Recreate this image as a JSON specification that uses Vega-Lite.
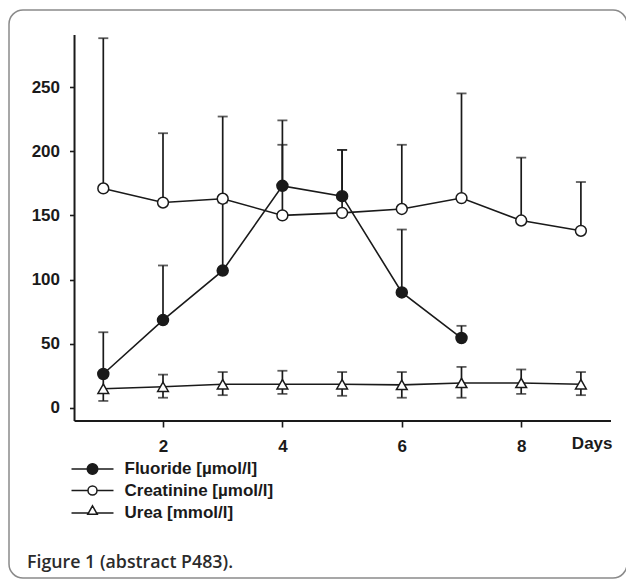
{
  "$schema": "https://vega.github.io/schema/vega-lite/v6.json",
  "width": 618,
  "height": 568,
  "autosize": {"type": "none"},
  "padding": {"left": 9, "top": 10, "right": 0, "bottom": 1},
  "background": "white",
  "config": {
    "view": {"stroke": "#8a8a8a", "strokeWidth": 1.5, "cornerRadius": 14},
    "font": "Liberation Sans",
    "axis": {
      "grid": false,
      "domain": false,
      "labelFont": "Liberation Sans",
      "labelFontSize": 17,
      "labelFontWeight": "bold",
      "labelColor": "#1a1a1a",
      "tickColor": "#1a1a1a",
      "tickWidth": 1.6,
      "titleFont": "Liberation Sans",
      "titleFontSize": 17,
      "titleFontWeight": "bold",
      "titleColor": "#1a1a1a"
    },
    "legend": {
      "labelFont": "Liberation Sans",
      "labelFontSize": 17,
      "labelFontWeight": "bold",
      "labelColor": "#1a1a1a",
      "symbolStrokeWidth": 1.5,
      "symbolStrokeColor": "#1a1a1a",
      "rowPadding": 3.5
    }
  },
  "title": {
    "text": "Figure 1 (abstract P483).",
    "orient": "bottom",
    "anchor": "start",
    "frame": "group",
    "offset": -10,
    "baseline": "alphabetic",
    "dx": 18,
    "font": "Open Sans",
    "fontWeight": 600,
    "fontSize": 17.8,
    "color": "#2b2b2b"
  },
  "data": {
    "values": [
      {"series": "Fluoride [µmol/l]", "day": 1, "value": 26.5, "lower": 26.5, "upper": 59},
      {"series": "Fluoride [µmol/l]", "day": 2, "value": 68.5, "lower": 68.5, "upper": 111},
      {"series": "Fluoride [µmol/l]", "day": 3, "value": 107, "lower": 107, "upper": 160},
      {"series": "Fluoride [µmol/l]", "day": 4, "value": 173, "lower": 173, "upper": 205},
      {"series": "Fluoride [µmol/l]", "day": 5, "value": 165, "lower": 165, "upper": 201},
      {"series": "Fluoride [µmol/l]", "day": 6, "value": 90, "lower": 90, "upper": 139},
      {"series": "Fluoride [µmol/l]", "day": 7, "value": 54.5, "lower": 54.5, "upper": 64},
      {"series": "Creatinine [µmol/l]", "day": 1, "value": 171, "lower": 171, "upper": 288},
      {"series": "Creatinine [µmol/l]", "day": 2, "value": 160, "lower": 160, "upper": 214},
      {"series": "Creatinine [µmol/l]", "day": 3, "value": 163, "lower": 163, "upper": 227},
      {"series": "Creatinine [µmol/l]", "day": 4, "value": 150, "lower": 150, "upper": 224},
      {"series": "Creatinine [µmol/l]", "day": 5, "value": 152, "lower": 152, "upper": 201},
      {"series": "Creatinine [µmol/l]", "day": 6, "value": 155, "lower": 155, "upper": 205},
      {"series": "Creatinine [µmol/l]", "day": 7, "value": 163.5, "lower": 163.5, "upper": 245},
      {"series": "Creatinine [µmol/l]", "day": 8, "value": 146, "lower": 146, "upper": 195},
      {"series": "Creatinine [µmol/l]", "day": 9, "value": 138, "lower": 138, "upper": 176},
      {"series": "Urea [mmol/l]", "day": 1, "value": 15, "lower": 5.5, "upper": 25},
      {"series": "Urea [mmol/l]", "day": 2, "value": 16.5, "lower": 8, "upper": 26},
      {"series": "Urea [mmol/l]", "day": 3, "value": 18.5, "lower": 10, "upper": 28},
      {"series": "Urea [mmol/l]", "day": 4, "value": 18.5, "lower": 11, "upper": 29},
      {"series": "Urea [mmol/l]", "day": 5, "value": 18.5, "lower": 9.5, "upper": 28},
      {"series": "Urea [mmol/l]", "day": 6, "value": 18, "lower": 8, "upper": 28},
      {"series": "Urea [mmol/l]", "day": 7, "value": 19.5, "lower": 8, "upper": 32},
      {"series": "Urea [mmol/l]", "day": 8, "value": 19.5, "lower": 11, "upper": 30},
      {"series": "Urea [mmol/l]", "day": 9, "value": 18.5, "lower": 10, "upper": 28}
    ]
  },
  "resolve": {"scale": {"shape": "independent", "fill": "independent"}, "legend": {"shape": "independent", "fill": "independent"}},
  "layer": [
    {
      "mark": {"type": "line", "color": "#1a1a1a", "strokeWidth": 1.6},
      "encoding": {
        "x": {
          "field": "day", "type": "quantitative",
          "scale": {"domain": [-0.5796, 9.7722], "nice": false, "zero": false},
          "axis": {
            "values": [2, 4, 6, 8], "format": "d", "offset": -157, "tickSize": 6, "labelPadding": 11,
            "title": "Days", "titleX": 603, "titleY": 27, "titleAlign": "right", "titleBaseline": "alphabetic"
          }
        },
        "y": {
          "field": "value", "type": "quantitative",
          "scale": {"domain": [-132.4, 309.97], "nice": false, "zero": false},
          "axis": {"values": [0, 50, 100, 150, 200, 250], "format": "d", "offset": -65.5, "tickSize": 5, "labelPadding": 10, "title": ""}
        },
        "detail": {"field": "series"},
        "order": {"field": "day"}
      }
    },
    {
      "data": {"values": [{}]},
      "mark": {"type": "rule", "color": "#1a1a1a", "strokeWidth": 2},
      "encoding": {
        "x": {"datum": 0.518, "type": "quantitative"},
        "y": {"datum": -10.1, "type": "quantitative"},
        "y2": {"datum": 290.5}
      }
    },
    {
      "data": {"values": [{}]},
      "mark": {"type": "rule", "color": "#1a1a1a", "strokeWidth": 2},
      "encoding": {
        "x": {"datum": 0.518, "type": "quantitative"},
        "x2": {"datum": 9.504},
        "y": {"datum": -10.1, "type": "quantitative"}
      }
    },
    {
      "mark": {"type": "rule", "color": "#1a1a1a", "strokeWidth": 1.7},
      "encoding": {
        "x": {"field": "day", "type": "quantitative"},
        "y": {"field": "lower", "type": "quantitative"},
        "y2": {"field": "upper"}
      }
    },
    {
      "mark": {"type": "tick", "orient": "horizontal", "size": 10, "thickness": 1.8, "color": "#1a1a1a"},
      "encoding": {
        "x": {"field": "day", "type": "quantitative"},
        "y": {"field": "upper", "type": "quantitative"}
      }
    },
    {
      "transform": [{"filter": "datum.series === 'Urea [mmol/l]'"}],
      "mark": {"type": "tick", "orient": "horizontal", "size": 10, "thickness": 1.8, "color": "#1a1a1a"},
      "encoding": {
        "x": {"field": "day", "type": "quantitative"},
        "y": {"field": "lower", "type": "quantitative"}
      }
    },
    {
      "transform": [{"filter": "false"}],
      "mark": {"type": "point", "filled": true, "stroke": "#1a1a1a", "strokeWidth": 1.5},
      "encoding": {
        "x": {"field": "day", "type": "quantitative"},
        "y": {"field": "value", "type": "quantitative"},
        "shape": {
          "field": "series", "type": "nominal",
          "scale": {
            "domain": ["Fluoride [µmol/l]", "Creatinine [µmol/l]", "Urea [mmol/l]"],
            "range": [
              "M-2.47,0H-0.62M0.62,0H2.47M-0.62,0A0.62,0.62,0,1,1,0.62,0A0.62,0.62,0,1,1,-0.62,0Z",
              "M-2.47,0H-0.53M0.53,0H2.47M-0.53,0A0.53,0.53,0,1,1,0.53,0A0.53,0.53,0,1,1,-0.53,0Z",
              "M-2.47,0H-0.47M0.47,0H2.47M0,-0.85L0.56,0.15L-0.56,0.15Z"
            ]
          },
          "legend": {
            "title": null, "orient": "none", "legendX": 74, "legendY": 449.5, "symbolSize": 289, "labelOffset": 22.5,
            "symbolOpacity": 1, "symbolStrokeColor": "#1a1a1a", "symbolStrokeWidth": 1.5,
            "encode": {"symbols": {"update": {"stroke": {"value": "#1a1a1a"}, "strokeWidth": {"value": 1.5}, "strokeOpacity": {"value": 1}}}}
          }
        },
        "fill": {
          "field": "series", "type": "nominal",
          "scale": {"domain": ["Fluoride [µmol/l]", "Creatinine [µmol/l]", "Urea [mmol/l]"], "range": ["#1a1a1a", "white", "white"]},
          "legend": {
            "title": null, "orient": "none", "legendX": 74, "legendY": 449.5, "symbolSize": 289, "labelOffset": 22.5,
            "symbolOpacity": 1, "symbolStrokeColor": "#1a1a1a", "symbolStrokeWidth": 1.5,
            "encode": {"symbols": {"update": {"stroke": {"value": "#1a1a1a"}, "strokeWidth": {"value": 1.5}, "strokeOpacity": {"value": 1}}}}
          }
        }
      }
    },
    {
      "mark": {"type": "point", "filled": true, "opacity": 1, "stroke": "#1a1a1a", "strokeWidth": 1.5},
      "encoding": {
        "x": {"field": "day", "type": "quantitative"},
        "y": {"field": "value", "type": "quantitative"},
        "shape": {
          "field": "series", "type": "nominal",
          "scale": {"domain": ["Fluoride [µmol/l]", "Creatinine [µmol/l]", "Urea [mmol/l]"], "range": ["circle", "circle", "triangle-up"]},
          "legend": null
        },
        "fill": {
          "field": "series", "type": "nominal",
          "scale": {"domain": ["Fluoride [µmol/l]", "Creatinine [µmol/l]", "Urea [mmol/l]"], "range": ["#1a1a1a", "white", "white"]},
          "legend": null
        },
        "size": {
          "field": "series", "type": "nominal",
          "scale": {"domain": ["Fluoride [µmol/l]", "Creatinine [µmol/l]", "Urea [mmol/l]"], "range": [121, 115, 170]},
          "legend": null
        }
      }
    }
  ]
}
